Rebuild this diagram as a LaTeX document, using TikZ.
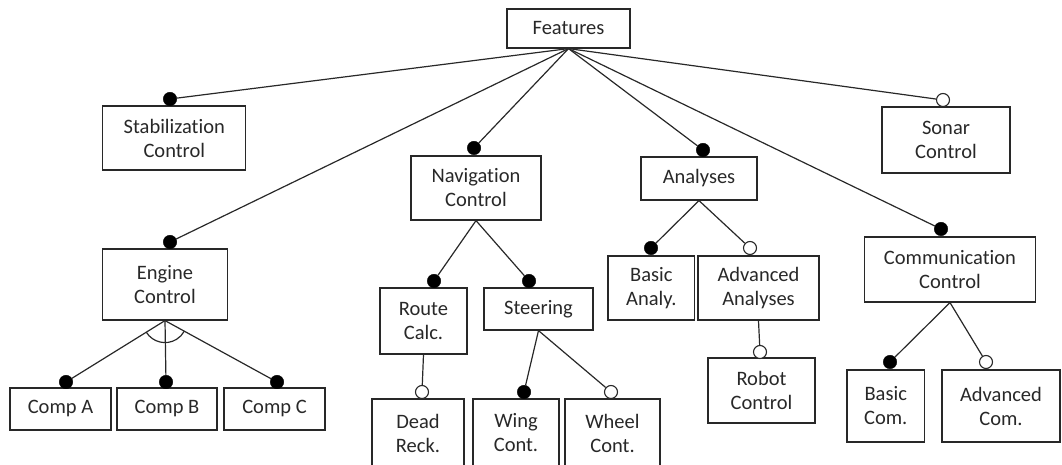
\documentclass[tikz,border=0pt]{standalone}
\usepackage{fontspec}
\setmainfont{Carlito}[Ligatures=NoCommon]
\usetikzlibrary{calc}
\definecolor{ink}{RGB}{40,40,40}
\tikzset{
  box/.style={draw=ink, line width=1.2bp, align=center, inner sep=0pt, text=ink,
              font=\fontsize{20.5bp}{24bp}\selectfont},
  fdot/.style={circle, fill=black, draw=black, inner sep=0pt, minimum size=13.5bp},
  odot/.style={circle, fill=white, draw=ink, line width=1.1bp, inner sep=0pt, minimum size=13bp},
  link/.style={draw=ink, line width=1.2bp},
}
\begin{document}
\begin{tikzpicture}[x=1bp,y=-1bp]
\useasboundingbox (0,0) rectangle (1062,465);
\clip (0,0) rectangle (1062,465);
% boxes
\node[box, minimum width=123bp, minimum height=39bp] (feat) at (568.5,28.5) {Features};
\node[box, minimum width=143bp, minimum height=64bp] (stab) at (174.3,138) {Stabilization\\Control};
\node[box, minimum width=130bp, minimum height=64bp] (nav) at (476,188) {Navigation\\Control};
\node[box, minimum width=116bp, minimum height=43bp] (ana) at (699,178.5) {Analyses};
\node[box, minimum width=128bp, minimum height=66bp] (sonar) at (946,140) {Sonar\\Control};
\node[box, minimum width=125bp, minimum height=71bp] (eng) at (165,284.5) {Engine\\Control};
\node[box, minimum width=171bp, minimum height=65bp] (comm) at (950,269.5) {Communication\\Control};
\node[box, minimum width=101bp, minimum height=42bp] (compa) at (60.5,409) {Comp A};
\node[box, minimum width=100bp, minimum height=42bp] (compb) at (167,409) {Comp B};
\node[box, minimum width=101bp, minimum height=42bp] (compc) at (274.5,409) {Comp C};
\node[box, minimum width=87bp, minimum height=66bp] (route) at (423.5,321) {Route\\Calc.};
\node[box, minimum width=109bp, minimum height=42bp] (steer) at (538.5,309) {Steering};
\node[box, minimum width=92bp, minimum height=68bp] (dead) at (418,433) {Dead\\Reck.};
\node[box, minimum width=86bp, minimum height=68bp] (wing) at (516,433) {Wing\\Cont.};
\node[box, minimum width=95bp, minimum height=68bp] (wheel) at (612.5,433) {Wheel\\Cont.};
\node[box, minimum width=86.5bp, minimum height=64bp] (basica) at (651.3,288) {Basic\\Analy.};
\node[box, minimum width=121bp, minimum height=64bp] (adva) at (758.5,288) {Advanced\\Analyses};
\node[box, minimum width=107bp, minimum height=65bp] (robot) at (761.5,390.5) {Robot\\Control};
\node[box, minimum width=77.5bp, minimum height=72bp] (basicc) at (885.75,406) {Basic\\Com.};
\node[box, minimum width=118bp, minimum height=72bp] (advc) at (1001,406) {Advanced\\Com.};
% feature markers
\node[fdot] (dstab) at (170,99) {};
\node[fdot] (deng) at (170,242) {};
\node[fdot] (dnav) at (474,148) {};
\node[fdot] (dana) at (703,150) {};
\node[fdot] (dcomm) at (941,229) {};
\node[odot] (dsonar) at (943,100) {};
\node[fdot] (dcompa) at (66,382) {};
\node[fdot] (dcompb) at (166,382) {};
\node[fdot] (dcompc) at (277,382) {};
\node[fdot] (droute) at (434,281) {};
\node[fdot] (dsteer) at (529,281) {};
\node[odot] (ddead) at (422,392) {};
\node[fdot] (dwing) at (524,392) {};
\node[odot] (dwheel) at (611,392) {};
\node[fdot] (dbasica) at (651,248) {};
\node[odot] (dadva) at (750,248) {};
\node[odot] (drobot) at (760,352) {};
\node[fdot] (dbasicc) at (890,362) {};
\node[odot] (dadvc) at (986,362) {};
% connectors
\foreach \t in {dstab,deng,dnav,dana,dcomm,dsonar}
  \path[link] (feat.south) -- (\t);
\foreach \t in {dcompa,dcompb,dcompc}
  \path[link] (eng.south) -- (\t);
\draw[ink, line width=1.2bp] (eng.south) ++(211.8:22bp) arc[start angle=211.8, end angle=330.8, radius=22bp];
\foreach \t in {droute,dsteer}
  \path[link] (nav.south) -- (\t);
\path[link] (route.south) -- (ddead);
\foreach \t in {dwing,dwheel}
  \path[link] (steer.south) -- (\t);
\foreach \t in {dbasica,dadva}
  \path[link] (ana.south) -- (\t);
\path[link] (adva.south) -- (drobot);
\foreach \t in {dbasicc,dadvc}
  \path[link] (comm.south) -- (\t);
\end{tikzpicture}
\end{document}
